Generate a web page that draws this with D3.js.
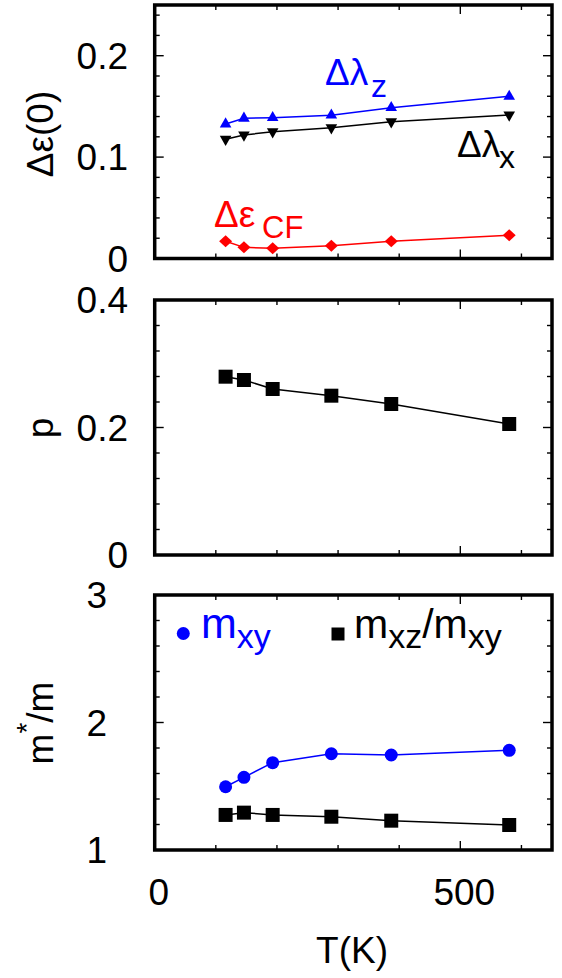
<!DOCTYPE html>
<html><head><meta charset="utf-8">
<script src="https://cdn.jsdelivr.net/npm/d3@7"></script>
<style>body{margin:0;background:#fff}</style>
</head><body><svg id="c" width="562" height="978" xmlns="http://www.w3.org/2000/svg"></svg>
<script>
// ---- data ----
const T = [116, 146, 193, 289, 387, 580];
const dLambdaZ = [0.1326, 0.1383, 0.1389, 0.1413, 0.1487, 0.1599];
const dLambdaX = [0.1176, 0.1218, 0.1250, 0.1290, 0.1349, 0.1415];
const dEpsCF   = [0.0170, 0.0110, 0.0101, 0.0126, 0.0170, 0.0229];
const pVals    = [0.2797, 0.2745, 0.2604, 0.2499, 0.2369, 0.2055];
const mXY      = [1.496, 1.570, 1.685, 1.755, 1.745, 1.782];
const mRatio   = [1.275, 1.293, 1.275, 1.261, 1.230, 1.196];

const xDomain = [0, 650];
const xTickLabels = [0, 500];
const xMinorTicks = [100, 200, 300, 400, 600];
const xMajorTicks = [500];

const y1Domain = [0, 0.25];
const y1Labels = [0, 0.1, 0.2];
const y1Minor = [0.02,0.04,0.06,0.08,0.12,0.14,0.16,0.18,0.22,0.24];
const y1Major = [0.1, 0.2];

const y2Domain = [0, 0.4];
const y2Labels = [0, 0.2, 0.4];
const y2Minor = [0.04,0.08,0.12,0.16,0.24,0.28,0.32,0.36];
const y2Major = [0.2];

const y3Domain = [1, 3];
const y3Labels = [1, 2, 3];
const y3Minor = [1.2,1.4,1.6,1.8,2.2,2.4,2.6,2.8];
const y3Major = [2];

// ---- drawing ----
const FONT = '"Liberation Sans", Arial, Helvetica, sans-serif';
const BLUE = '#0000ff', RED = '#ff0000', BLACK = '#000000';
const svg = d3.select('#c').style('font-family', FONT);
const x = d3.scaleLinear().domain(xDomain).range([154.7, 552]);

const panels = [
  {top: 5,   bottom: 258.5, domain: y1Domain, minor: y1Minor, major: y1Major, labels: y1Labels, labelRight: 128, fmt: d => d === 0 ? '0' : d3.format('.1f')(d)},
  {top: 300, bottom: 555,   domain: y2Domain, minor: y2Minor, major: y2Major, labels: y2Labels, labelRight: 128, fmt: d => d === 0 ? '0' : d3.format('.1f')(d)},
  {top: 595, bottom: 850,   domain: y3Domain, minor: y3Minor, major: y3Major, labels: y3Labels, labelRight: 107, fmt: d => String(d)}
];
panels.forEach(p => { p.y = d3.scaleLinear().domain(p.domain).range([p.bottom, p.top]); });

const MINOR = 5, MAJOR = 9, TW = 1.4;
const [xl, xr] = x.range();

panels.forEach(p => {
  const g = svg.append('g');
  [[p.minor, MINOR], [p.major, MAJOR]].forEach(([vals, len]) => {
    vals.forEach(v => {
      const yy = p.y(v);
      g.append('line').attr('x1', xl).attr('x2', xl + len).attr('y1', yy).attr('y2', yy)
        .attr('stroke', BLACK).attr('stroke-width', TW);
      g.append('line').attr('x1', xr).attr('x2', xr - len).attr('y1', yy).attr('y2', yy)
        .attr('stroke', BLACK).attr('stroke-width', TW);
    });
  });
  [[xMinorTicks, MINOR], [xMajorTicks, MAJOR]].forEach(([vals, len]) => {
    vals.forEach(v => {
      const xx = x(v);
      g.append('line').attr('x1', xx).attr('x2', xx).attr('y1', p.bottom).attr('y2', p.bottom - len)
        .attr('stroke', BLACK).attr('stroke-width', TW);
      g.append('line').attr('x1', xx).attr('x2', xx).attr('y1', p.top).attr('y2', p.top + len)
        .attr('stroke', BLACK).attr('stroke-width', TW);
    });
  });
  p.labels.forEach(v => {
    g.append('text').attr('x', p.labelRight).attr('y', p.y(v)).attr('dy', '0.36em')
      .attr('text-anchor', 'end').attr('font-size', 37).text(p.fmt(v));
  });
});

xTickLabels.forEach(v => {
  svg.append('text').attr('x', x(v) + 4).attr('y', 905).attr('text-anchor', 'middle')
    .attr('font-size', 37).text(String(v));
});
svg.append('text').attr('x', 352).attr('y', 963).attr('text-anchor', 'middle')
  .attr('font-size', 37).text('T(K)');

function yTitle(cy, build) {
  const t = svg.append('text').attr('transform', `translate(53,${cy}) rotate(-90)`)
    .attr('text-anchor', 'middle').attr('font-size', 37);
  build(t);
}
yTitle(134, t => t.text('Δε(0)'));
yTitle(428, t => t.text('p'));
yTitle(723, t => {
  t.append('tspan').text('m');
  t.append('tspan').attr('dy', -17).attr('font-size', 28).text('*');
  t.append('tspan').attr('dy', 17).text('/m');
});

const markers = {
  triUp: (cx, cy) => `M${cx},${cy - 6.7}L${cx + 5.8},${cy + 3.4}L${cx - 5.8},${cy + 3.4}Z`,
  triDown: (cx, cy) => `M${cx},${cy + 6.7}L${cx + 5.8},${cy - 3.4}L${cx - 5.8},${cy - 3.4}Z`,
  diamond: (cx, cy) => `M${cx},${cy - 6}L${cx + 6.5},${cy}L${cx},${cy + 6}L${cx - 6.5},${cy}Z`,
  square: (cx, cy) => `M${cx - 7},${cy - 7}h14v14h-14Z`,
  circle: (cx, cy) => `M${cx + 6.5},${cy}A6.5,6.5 0 1,1 ${cx - 6.5},${cy}A6.5,6.5 0 1,1 ${cx + 6.5},${cy}Z`
};

function series(panel, vals, color, marker) {
  const pts = T.map((t, i) => [x(t), panel.y(vals[i])]);
  const g = svg.append('g');
  g.append('path').attr('d', d3.line()(pts)).attr('fill', 'none')
    .attr('stroke', color).attr('stroke-width', 1.5);
  g.selectAll('path.m').data(pts).join('path').attr('class', 'm')
    .attr('d', d => markers[marker](d[0], d[1])).attr('fill', color);
}

series(panels[0], dLambdaX, BLACK, 'triDown');
series(panels[0], dLambdaZ, BLUE, 'triUp');
series(panels[0], dEpsCF, RED, 'diamond');
series(panels[1], pVals, BLACK, 'square');
series(panels[2], mRatio, BLACK, 'square');
series(panels[2], mXY, BLUE, 'circle');

panels.forEach(p => {
  svg.append('rect').attr('x', xl).attr('y', p.top).attr('width', xr - xl).attr('height', p.bottom - p.top)
    .attr('fill', 'none').attr('stroke', BLACK).attr('stroke-width', 3.5);
});

// in-plot labels: main text and subscript with explicit positions
function label(xp, yp, main, subX, subY, sub, color, size, subSize) {
  const t = svg.append('text').attr('font-size', size).attr('fill', color);
  t.append('tspan').attr('x', xp).attr('y', yp).text(main);
  t.append('tspan').attr('x', subX).attr('y', subY).attr('font-size', subSize).text(sub);
}
label(325, 85, 'Δλ', 371, 97, 'z', BLUE, 37, 32);
label(457, 157, 'Δλ', 499, 168, 'x', BLACK, 37, 32);
label(214, 227, 'Δε', 262, 238, 'CF', RED, 37, 31);

// legend in bottom panel
svg.append('path').attr('d', markers.circle(183.3, 633.5)).attr('fill', BLUE);
{
  const t = svg.append('text').attr('x', 201).attr('y', 638).attr('font-size', 43).attr('fill', BLUE);
  t.append('tspan').text('m');
  t.append('tspan').attr('dy', 10).attr('font-size', 34).text('xy');
}
svg.append('path').attr('d', `M331.5,627.5h13v13h-13Z`).attr('fill', BLACK);
{
  const t = svg.append('text').attr('x', 354).attr('y', 638).attr('font-size', 41).attr('fill', BLACK);
  t.append('tspan').text('m');
  t.append('tspan').attr('dy', 10).attr('font-size', 34).text('xz');
  t.append('tspan').attr('dy', -10).attr('font-size', 41).text('/m');
  t.append('tspan').attr('dy', 10).attr('font-size', 34).text('xy');
}
</script>
</body></html>
